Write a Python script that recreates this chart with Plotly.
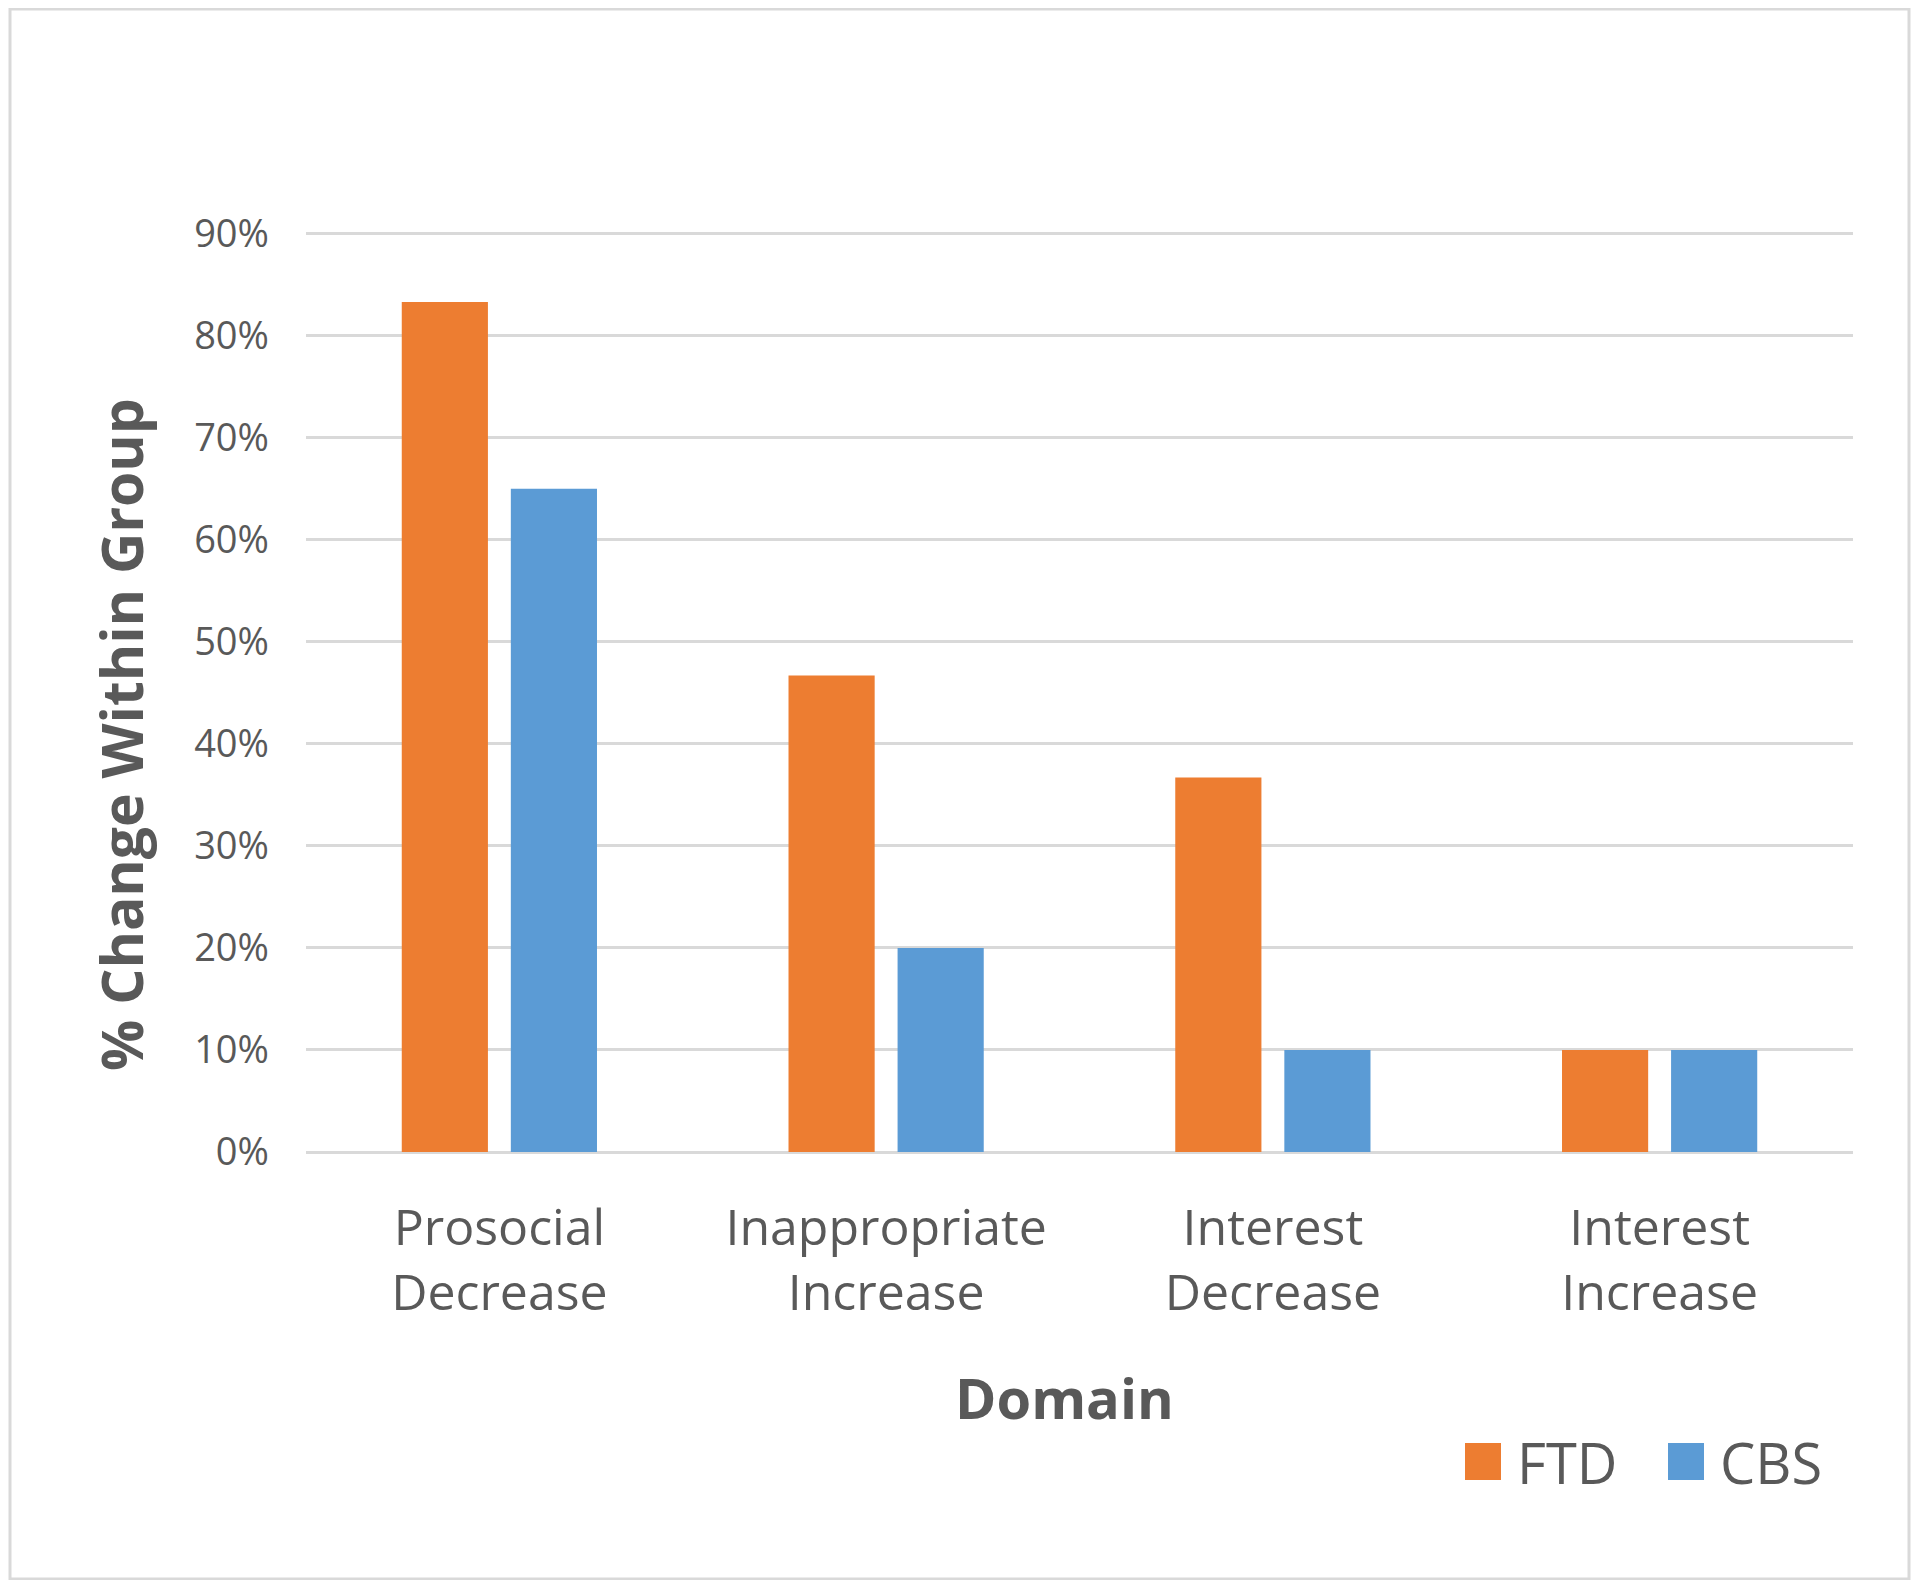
import plotly.graph_objects as go

# ---- data ----
categories = ["Prosocial<br>Decrease", "Inappropriate<br>Increase", "Interest<br>Decrease", "Interest<br>Increase"]
series_names = ["FTD", "CBS"]
ftd_values = [0.833, 0.467, 0.367, 0.10]
cbs_values = [0.65, 0.20, 0.10, 0.10]
y_tick_values = [0, 0.1, 0.2, 0.3, 0.4, 0.5, 0.6, 0.7, 0.8, 0.9]
x_title = "Domain"
y_title = "% Change Within Group"

# ---- style ----
OFF = 8  # body margin of the html page
W, H = 1920 - 2 * OFF, 1588 - 2 * OFF
L, R, T, B = 306 - OFF, 1853 - OFF, 232 - OFF, 1152 - OFF
ORANGE = "#ED7D31"
BLUE = "#5B9BD5"
TEXT = "#595959"
GRID = "#D9D9D9"
FONT = "Open Sans"


def px(x):
    return (x - OFF - L) / (R - L)


def py(y):
    return (B - (y - OFF)) / (B - T)


fig = go.Figure()
fig.add_trace(go.Bar(name=series_names[0], x=categories, y=ftd_values,
                     marker=dict(color=ORANGE, line=dict(width=0))))
fig.add_trace(go.Bar(name=series_names[1], x=categories, y=cbs_values,
                     marker=dict(color=BLUE, line=dict(width=0))))

fig.update_layout(
    width=W, height=H, autosize=False,
    margin=dict(l=L, r=W - R, t=T, b=H - B, pad=0),
    paper_bgcolor="white", plot_bgcolor="white",
    barmode="group", bargap=0.436, bargroupgap=0.21,
    showlegend=False,
    font=dict(family=FONT, color=TEXT),
)
fig.update_yaxes(
    range=[0, 0.9015], tickvals=y_tick_values, tickformat=".0%",
    showgrid=True, gridcolor=GRID, gridwidth=3,
    zeroline=True, zerolinecolor=GRID, zerolinewidth=3,
    showline=False, ticks="", ticklabelstandoff=36,
    tickfont=dict(size=38, color=TEXT, family=FONT),
)
fig.update_xaxes(
    showgrid=False, showline=False, ticks="", ticklabelstandoff=42,
    tickfont=dict(size=50, color=TEXT, family=FONT),
)

# axis titles
fig.add_annotation(text="<b>" + x_title + "</b>", xref="paper", yref="paper",
                   x=px(1064), y=py(1397), showarrow=False,
                   font=dict(size=56, color=TEXT, family=FONT),
                   xanchor="center", yanchor="middle")
fig.add_annotation(text="<b>" + y_title + "</b>", xref="paper", yref="paper",
                   x=px(121), y=py(735), showarrow=False, textangle=-90,
                   font=dict(size=57, color=TEXT, family=FONT),
                   xanchor="center", yanchor="middle")

# legend (manual)
legend_items = [(series_names[0], ORANGE, 1465, 1515), (series_names[1], BLUE, 1668, 1718)]
for name, col, sx, tx in legend_items:
    fig.add_shape(type="rect", xref="paper", yref="paper",
                  x0=px(sx), x1=px(sx + 36), y0=py(1443), y1=py(1480),
                  fillcolor=col, line=dict(width=0))
    fig.add_annotation(text=name, xref="paper", yref="paper",
                       x=px(tx), y=py(1462), showarrow=False,
                       xanchor="left", yanchor="middle",
                       font=dict(size=56, color=TEXT, family=FONT))

# outer border
fig.add_shape(type="rect", xref="paper", yref="paper",
              x0=px(10), x1=px(1909), y0=py(9), y1=py(1579),
              line=dict(color=GRID, width=3), fillcolor="rgba(0,0,0,0)", layer="below")

fig.write_html("out.html")
